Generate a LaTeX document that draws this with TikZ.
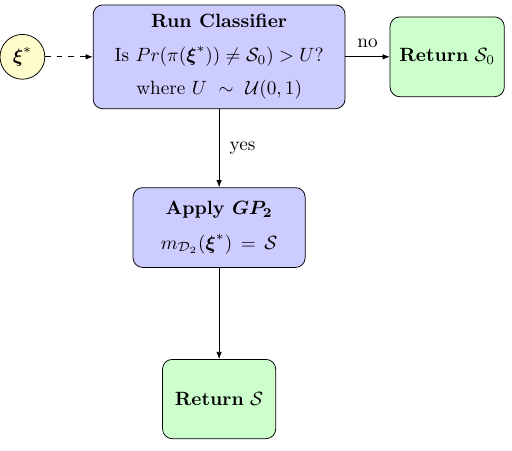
\documentclass[tikz,border=0pt]{standalone}
\usepackage{amsmath,amssymb}
\usepackage{tikz}
\usetikzlibrary{arrows.meta}
\usetikzlibrary{positioning}
\tikzset{
% Define standard arrow tip
>={Latex[length=1.3mm,width=1mm]},
procbox/.style={rectangle, draw=black, rounded corners=5pt, align=center, fill=blue!20},
resultbox/.style={rectangle, draw=black, rounded corners=5pt, align=center, fill=green!20},
inputnode/.style={circle, draw=black, fill=yellow!20, inner sep=0}
}

\begin{document}
\begin{tikzpicture}
  \useasboundingbox (0,0) rectangle (9.37,-8.24);

  \node[procbox,
    minimum height = 1.9cm,
    minimum width = 4.61cm] (classifier) at (4.01, -1.04)
    {\textbf{Run Classifier} \\[5.5pt]
     Is $Pr(\pi(\boldsymbol{\xi}^*)) \neq \mathcal{S}_0) > U$? \\[5.5pt]
     where $U\ \sim\ \mathcal{U}(0,1)$};

  \node[inputnode,
    minimum size = 0.82cm] (xi) at (0.41, -1.04) {$\boldsymbol{\xi}^*$};

  \node[resultbox,
    anchor=west,
    minimum height = 1.46cm,
    minimum width = 2.09cm] (ret0) at ([xshift=0.81cm]classifier.east) {\textbf{Return} $\mathcal{S}_0$};

  \node[procbox,
    anchor=north,
    minimum height = 1.46cm,
    minimum width = 3.15cm] (apply) at ([yshift=-1.43cm]classifier.south)
    {\textbf{Apply $\boldsymbol{GP_2}$} \\[6pt]
     $m_{\mathcal{D}_2}(\boldsymbol{\xi}^*) \,=\, \mathcal{S}$};

  \node[resultbox,
    anchor=north,
    minimum height = 1.45cm,
    minimum width = 2.07cm] (retS) at ([yshift=-1.67cm]apply.south) {\textbf{Return} $\mathcal{S}$};

  \draw[->, dashed] (xi) -- (classifier);
  \draw[->] (classifier) -- node[above=1pt] {no} (ret0);
  \draw[->] (classifier) -- node[right=2pt] {yes} (apply);
  \draw[->] (apply) -- (retS);
\end{tikzpicture}
\end{document}
